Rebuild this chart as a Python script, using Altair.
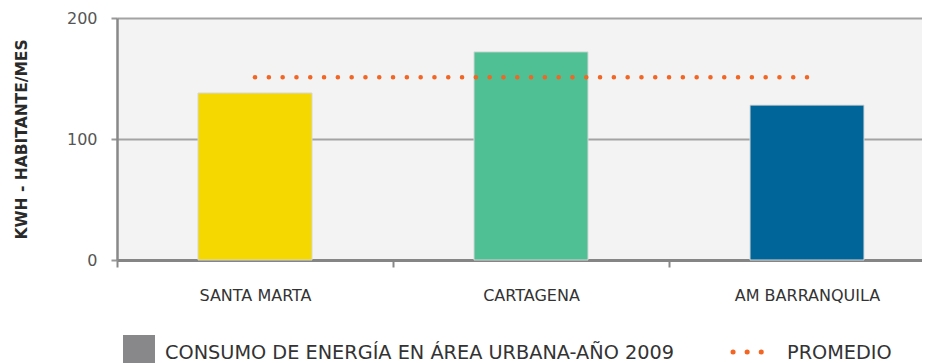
import altair as alt
import pandas as pd

categories = ["SANTA MARTA", "CARTAGENA", "AM BARRANQUILA"]
values = [138, 172, 128]
colors = ["#f5d800", "#4fbf94", "#006699"]
promedio = 151
promedio_span = ["SANTA MARTA", "AM BARRANQUILA"]
y_ticks = [0, 100, 200]
y_title = "KWH - HABITANTE/MES"
legend_bar = "CONSUMO DE ENERGÍA EN ÁREA URBANA-AÑO 2009"
legend_line = "PROMEDIO"

FONT = "DejaVu Sans"

bars_df = pd.DataFrame({"cat": categories, "val": values, "color": colors})
line_df = pd.DataFrame({"cat": promedio_span, "val": [promedio] * len(promedio_span)})

x_scale = alt.Scale(domain=categories, range=[0, 828], paddingInner=0.587, paddingOuter=0.2935)
y_scale = alt.Scale(domain=[0, 200], nice=False)

x_axis = alt.Axis(
    title=None, tickOffset=-138, labelOffset=138, tickSize=7, tickWidth=2, tickColor="#888888",
    domainColor="#858585", domainWidth=3, labelPadding=20, labelFontSize=16,
    labelColor="#333333", labelFont=FONT, labelAngle=0, grid=False,
)
y_axis = alt.Axis(
    title=y_title, values=y_ticks, tickSize=6, tickWidth=2, tickColor="#999999",
    domainColor="#888888", domainWidth=2.5, grid=True, gridColor="#a3a3a3", gridWidth=2,
    labelPadding=14, labelFontSize=16, labelColor="#555555", labelFont=FONT,
    titleFont=FONT, titleFontSize=15.5, titleFontWeight="bold", titleColor="#2a2a2a",
    titlePadding=37,
)

bars = alt.Chart(bars_df).mark_bar(stroke="#d6d6d6", strokeWidth=1).encode(
    x=alt.X("cat:N", scale=x_scale, axis=x_axis, sort=categories),
    y=alt.Y("val:Q", scale=y_scale, axis=y_axis),
    color=alt.Color("color:N", scale=None, legend=None),
)

line = alt.Chart(line_df).mark_line(
    color="#f26522", strokeWidth=4.5, strokeCap="round", strokeDash=[0.1, 13.7]
).encode(
    x=alt.X("cat:N", scale=x_scale, sort=categories),
    y=alt.Y("val:Q", scale=y_scale),
)

leg_df = pd.DataFrame({"a": [legend_bar], "b": [legend_line]})
leg_sq = alt.Chart(leg_df).mark_square(color="#88888a", size=1024, opacity=1).encode(
    x=alt.value(22), y=alt.value(333)
)
leg_txt1 = alt.Chart(leg_df).mark_text(
    align="left", baseline="alphabetic", fontSize=19.3, font=FONT, color="#333333"
).encode(x=alt.value(48), y=alt.value(341), text="a:N")
leg_dots = alt.Chart(leg_df).mark_rule(
    color="#f26522", strokeWidth=5, strokeCap="round", strokeDash=[0.1, 14]
).encode(x=alt.value(616), x2=alt.value(648), y=alt.value(334))
leg_txt2 = alt.Chart(leg_df).mark_text(
    align="left", baseline="alphabetic", fontSize=19.3, font=FONT, color="#333333"
).encode(x=alt.value(670), y=alt.value(341), text="b:N")

chart = alt.layer(bars, line, leg_sq, leg_txt1, leg_dots, leg_txt2).properties(
    width=805, height=242,
    padding={"left": 109, "top": 10, "right": 0, "bottom": 103},
    autosize=alt.AutoSizeParams(type="none"),
).configure_view(fill="#f3f3f3", stroke="transparent")

chart.save("out.html", embed_options={"renderer": "svg", "actions": False})
